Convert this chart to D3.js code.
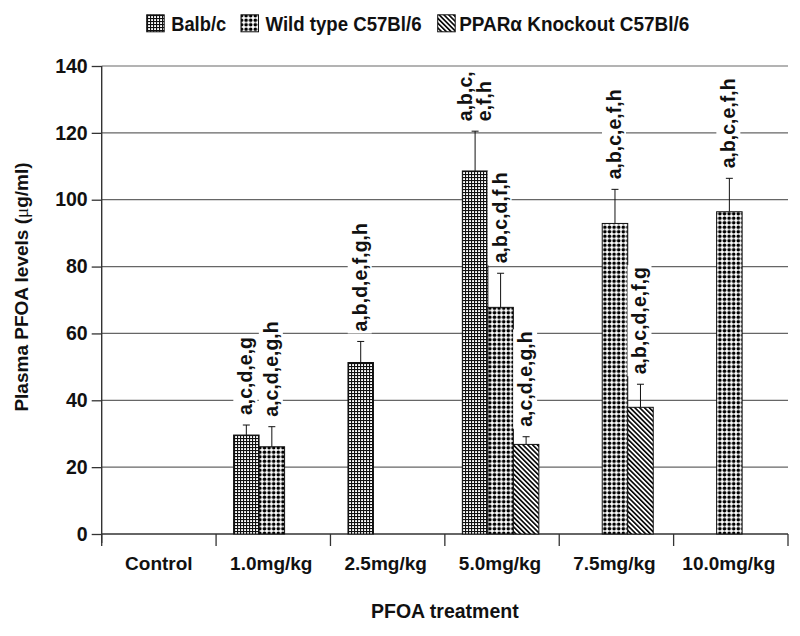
<!DOCTYPE html>
<html>
<head>
<meta charset="utf-8">
<script src="https://cdn.jsdelivr.net/npm/d3@7"></script>
<style>
  html, body { margin: 0; padding: 0; background: #fff; }
  svg { display: block; }
  text { font-family: "Liberation Sans", Arial, sans-serif; font-weight: bold; fill: #111; }
</style>
</head>
<body>
<svg id="chart" width="800" height="636"></svg>
<script>
// ---------- data ----------
const categories = ["Control", "1.0mg/kg", "2.5mg/kg", "5.0mg/kg", "7.5mg/kg", "10.0mg/kg"];
const seriesKeys = ["balb", "wt", "ko"];
const seriesNames = ["Balb/c", "Wild type C57Bl/6", "PPARα Knockout C57Bl/6"];

const balbValues = [null, 29.6, 51.3, 108.6, null, null];
const balbErrors = [null, 3.0, 6.3, 11.9, null, null];
const wtValues   = [null, 26.1, null, 67.8, 92.9, 96.4];
const wtErrors   = [null, 6.0, null, 10.2, 10.2, 10.0];
const koValues   = [null, null, null, 26.8, 37.9, null];
const koErrors   = [null, null, null, 2.3, 6.9, null];

const balbLabels = [null, ["a,c,d,e,g"], ["a,b,d,e,f,g,h"], ["a,b,c,", "e,f,h"], null, null];
const wtLabels   = [null, ["a,c,d,e,g,h"], null, ["a,b,c,d,f,h"], ["a,b,c,e,f,h"], ["a,b,c,e,f,h"]];
const koLabels   = [null, null, null, ["a,c,d,e,g,h"], ["a,b,c,d,e,f,g"], null];

const yTicks = [0, 20, 40, 60, 80, 100, 120, 140];
const yTitle = "Plasma PFOA levels (";
const xTitle = "PFOA treatment";

// ---------- build ----------
(function () {
const values = { balb: balbValues, wt: wtValues, ko: koValues };
const errors = { balb: balbErrors, wt: wtErrors, ko: koErrors };
const labels = { balb: balbLabels, wt: wtLabels, ko: koLabels };

const svg = d3.select("#chart");
const pLeft = 101.7, pRight = 788, pTop = 66, pBottom = 534;

const y = d3.scaleLinear().domain([0, 140]).range([pBottom, pTop]);
const x = d3.scaleBand().domain(categories).range([pLeft, pRight]).padding(0);
const bw = x.bandwidth();
const inner = d3.scaleBand().domain(seriesKeys).range([17.5, 17.5 + 76.5]).padding(0);

// patterns
const defs = svg.append("defs");
const pBalb = defs.append("pattern").attr("id", "p-balb").attr("patternUnits", "userSpaceOnUse")
  .attr("width", 3).attr("height", 3);
pBalb.append("rect").attr("width", 3).attr("height", 3).attr("fill", "#fff");
pBalb.append("rect").attr("x", 0).attr("y", 0).attr("width", 3).attr("height", 1.1).attr("fill", "#111");
pBalb.append("rect").attr("x", 0).attr("y", 0).attr("width", 1.1).attr("height", 3).attr("fill", "#111");

const pWt = defs.append("pattern").attr("id", "p-wt").attr("patternUnits", "userSpaceOnUse")
  .attr("width", 4.6).attr("height", 4.5);
pWt.append("rect").attr("width", 4.6).attr("height", 4.5).attr("fill", "#fff");
pWt.append("circle").attr("cx", 2.3).attr("cy", 2.25).attr("r", 1.8).attr("fill", "#000");

const pKo = defs.append("pattern").attr("id", "p-ko").attr("patternUnits", "userSpaceOnUse")
  .attr("width", 3.4).attr("height", 6).attr("patternTransform", "rotate(-45)");
pKo.append("rect").attr("width", 3.4).attr("height", 6).attr("fill", "#fff");
pKo.append("rect").attr("x", 0).attr("y", 0).attr("width", 1.6).attr("height", 6).attr("fill", "#000");

const fills = { balb: "url(#p-balb)", wt: "url(#p-wt)", ko: "url(#p-ko)" };

// gridlines
svg.append("g").selectAll("line").data(yTicks.filter(d => d > 0)).join("line")
  .attr("x1", pLeft).attr("x2", pRight)
  .attr("y1", d => y(d)).attr("y2", d => y(d))
  .attr("stroke", d => d === 140 ? "#9a9a9a" : "#666").attr("stroke-width", 1.3);

// y axis
const yAxis = d3.axisLeft(y).tickValues(yTicks).tickSize(10).tickPadding(4).tickSizeOuter(0);
const gy = svg.append("g").attr("transform", `translate(${pLeft},0)`).call(yAxis);
gy.select(".domain").remove();
gy.selectAll(".tick line").attr("stroke", "#333").attr("stroke-width", 1.3);
gy.selectAll(".tick text").attr("font-size", 19.5).attr("font-family", "Liberation Sans, Arial, sans-serif")
  .attr("font-weight", "bold").attr("fill", "#111");
svg.append("line").attr("x1", pLeft).attr("x2", pLeft).attr("y1", pTop).attr("y2", pBottom + 9)
  .attr("stroke", "#333").attr("stroke-width", 1.4);

// x axis
svg.append("line").attr("x1", pLeft).attr("x2", pRight).attr("y1", pBottom).attr("y2", pBottom)
  .attr("stroke", "#333").attr("stroke-width", 1.6);
const bounds = categories.map(c => x(c)).concat([x(categories[categories.length - 1]) + bw]);
svg.append("g").selectAll("line").data(bounds).join("line")
  .attr("x1", d => d).attr("x2", d => d).attr("y1", pBottom).attr("y2", pBottom + 12)
  .attr("stroke", "#333").attr("stroke-width", 1.3);
svg.append("g").selectAll("text").data(categories).join("text")
  .attr("x", d => x(d) + bw / 2 + (d === "Control" ? 0 : -2)).attr("y", 570)
  .attr("text-anchor", "middle").attr("font-size", 19).text(d => d);

// bars
const barData = [];
seriesKeys.forEach(k => {
  categories.forEach((c, i) => {
    if (values[k][i] != null) {
      barData.push({ key: k, cat: c, value: values[k][i], err: errors[k][i], label: labels[k][i] });
    }
  });
});

const gBars = svg.append("g");
gBars.selectAll("rect").data(barData).join("rect")
  .attr("x", d => x(d.cat) + inner(d.key))
  .attr("y", d => y(d.value))
  .attr("width", inner.bandwidth())
  .attr("height", d => y(0) - y(d.value))
  .attr("fill", d => fills[d.key])
  .attr("stroke", "#111").attr("stroke-width", 1);

// error bars
const gErr = svg.append("g").attr("stroke", "#111").attr("stroke-width", 1);
barData.forEach(d => {
  const cx = x(d.cat) + inner(d.key) + inner.bandwidth() / 2;
  gErr.append("line").attr("x1", cx).attr("x2", cx).attr("y1", y(d.value)).attr("y2", y(d.value + d.err));
  gErr.append("line").attr("x1", cx - 3.5).attr("x2", cx + 3.5).attr("y1", y(d.value + d.err)).attr("y2", y(d.value + d.err));
});

// significance labels
const gLab = svg.append("g");
barData.filter(d => d.label).forEach(d => {
  const cx = x(d.cat) + inner(d.key) + inner.bandwidth() / 2 - 1;
  const y0 = y(d.value + d.err) - 10;
  const n = d.label.length;
  const g = gLab.append("g").attr("transform", `translate(${cx},${y0}) rotate(-90)`);
  const bg = g.append("rect").attr("fill", "#fff");
  const t = g.append("text").attr("font-size", 19.5).attr("text-anchor", "start");
  d.label.forEach((line, j) => {
    t.append("tspan").attr("x", 0).attr("y", (j - (n - 1) / 2) * 19 + 7).text(line);
  });
  const bb = t.node().getBBox();
  bg.attr("x", bb.x - 2).attr("y", bb.y - 1).attr("width", bb.width + 4).attr("height", bb.height + 2);
});

// y title
const yt = svg.append("text").attr("transform", "translate(28,287) rotate(-90)")
  .attr("text-anchor", "middle").attr("font-size", 19);
yt.append("tspan").text(yTitle);
yt.append("tspan").attr("font-family", "Liberation Serif, serif").attr("font-weight", "normal").text("μ");
yt.append("tspan").text("g/ml)");

// x title
svg.append("text").attr("x", (pLeft + pRight) / 2).attr("y", 618).attr("text-anchor", "middle")
  .attr("font-size", 19.5).text(xTitle);

// legend
const legendSlotX = { balb: 146.7, wt: 241, ko: 437.7 };
const legendTextW = { balb: 55, wt: 156, ko: 230 };
const gLeg = svg.append("g");
seriesKeys.forEach((k, i) => {
  const lx = legendSlotX[k];
  gLeg.append("rect").attr("x", lx).attr("y", 14.8).attr("width", 17.5).attr("height", 17)
    .attr("fill", fills[k]).attr("stroke", "#111").attr("stroke-width", 1);
  gLeg.append("text").attr("x", lx + 17.5 + (k === "ko" ? 4 : 7)).attr("y", 31)
    .attr("font-size", 20).attr("textLength", legendTextW[k]).attr("lengthAdjust", "spacingAndGlyphs")
    .text(seriesNames[i]);
});
})();
</script>
</body>
</html>
